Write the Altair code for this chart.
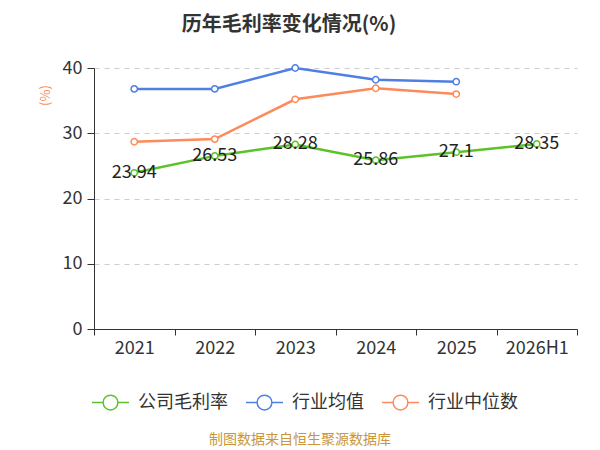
import altair as alt
import pandas as pd

years = ["2021", "2022", "2023", "2024", "2025", "2026H1"]
company = [23.94, 26.53, 28.28, 25.86, 27.1, 28.35]
ind_mean = [36.8, 36.8, 40.0, 38.2, 37.9]
ind_median = [28.7, 29.1, 35.2, 36.9, 36.0]

series_names = ["公司毛利率", "行业均值", "行业中位数"]
colors = ["#5bc22a", "#4f7fe3", "#fd8a5a"]

rows = []
for y, v in zip(years, company):
    rows.append({"year": y, "value": v, "series": series_names[0]})
for y, v in zip(years, ind_mean):
    rows.append({"year": y, "value": v, "series": series_names[1]})
for y, v in zip(years, ind_median):
    rows.append({"year": y, "value": v, "series": series_names[2]})
df = pd.DataFrame(rows)

FONT = "Noto Sans CJK SC"
sym = "M-1,0L-0.4,0M0.4,0L1,0M0.4,0A0.4,0.4,0,1,1,-0.4,0A0.4,0.4,0,1,1,0.4,0"

x_enc = alt.X("year:N", sort=years, scale=alt.Scale(domain=years),
              axis=alt.Axis(title=None, tickBand="extent", labelAngle=0, labelFontSize=18,
                            labelColor="#333", labelPadding=4, domainColor="#333", tickColor="#333",
                            tickSize=6, grid=False, labelFont=FONT))
y_enc = alt.Y("value:Q", scale=alt.Scale(domain=[0, 40]),
              axis=alt.Axis(title="(%)", titleColor="#fd8a5a", titleFontSize=13, titleFontWeight="normal",
                            titleFont=FONT, titleX=-49, titleY=27, titleAngle=-90, titleAlign="center",
                            titleBaseline="middle",
                            values=[0, 10, 20, 30, 40], labelFontSize=18, labelColor="#333",
                            domainColor="#333", tickColor="#333", tickSize=7, labelPadding=5,
                            grid=True, gridDash=[5, 5], gridColor="#cccccc", labelFont=FONT))
color_enc = alt.Color("series:N", scale=alt.Scale(domain=series_names, range=colors),
                      legend=alt.Legend(title=None, orient="none", legendX=-3, legendY=315,
                                        direction="horizontal", symbolType=sym, symbolSize=1369,
                                        symbolStrokeWidth=1.5, symbolFillColor="white",
                                        labelFontSize=18, labelColor="#333", labelFont=FONT,
                                        columnPadding=15, labelOffset=8))

base = alt.Chart(df)
lines = base.mark_line(strokeWidth=2.5).encode(x=x_enc, y=y_enc, color=color_enc)
points = base.mark_point(filled=True, fill="white", size=40, strokeWidth=1.5, opacity=1).encode(
    x=x_enc, y=y_enc, stroke=alt.Stroke("series:N", scale=alt.Scale(domain=series_names, range=colors), legend=None))
labels = alt.Chart(df[df["series"] == series_names[0]]).mark_text(
    fontSize=18, color="#222", font=FONT, baseline="middle", align="center").encode(
    x=x_enc, y=y_enc, text=alt.Text("value:Q", format="~g"))

title = alt.Chart(pd.DataFrame({"t": ["历年毛利率变化情况(%)"]})).mark_text(
    fontSize=20, fontWeight="bold", color="#333", font=FONT, align="center", baseline="middle").encode(
    x=alt.value(195), y=alt.value(-43), text="t:N")
footer = alt.Chart(pd.DataFrame({"t": ["制图数据来自恒生聚源数据库"]})).mark_text(
    fontSize=14, color="#c9963a", font=FONT, align="center", baseline="middle").encode(
    x=alt.value(206), y=alt.value(372), text="t:N")

chart = alt.layer(lines, points, labels, title, footer).properties(
    width=483, height=261,
    padding={"left": 86, "top": 60, "right": 15, "bottom": 121},
    autosize="none",
).configure_view(stroke=None)

chart.save("out.html", embed_options={"renderer": "svg", "actions": False})
